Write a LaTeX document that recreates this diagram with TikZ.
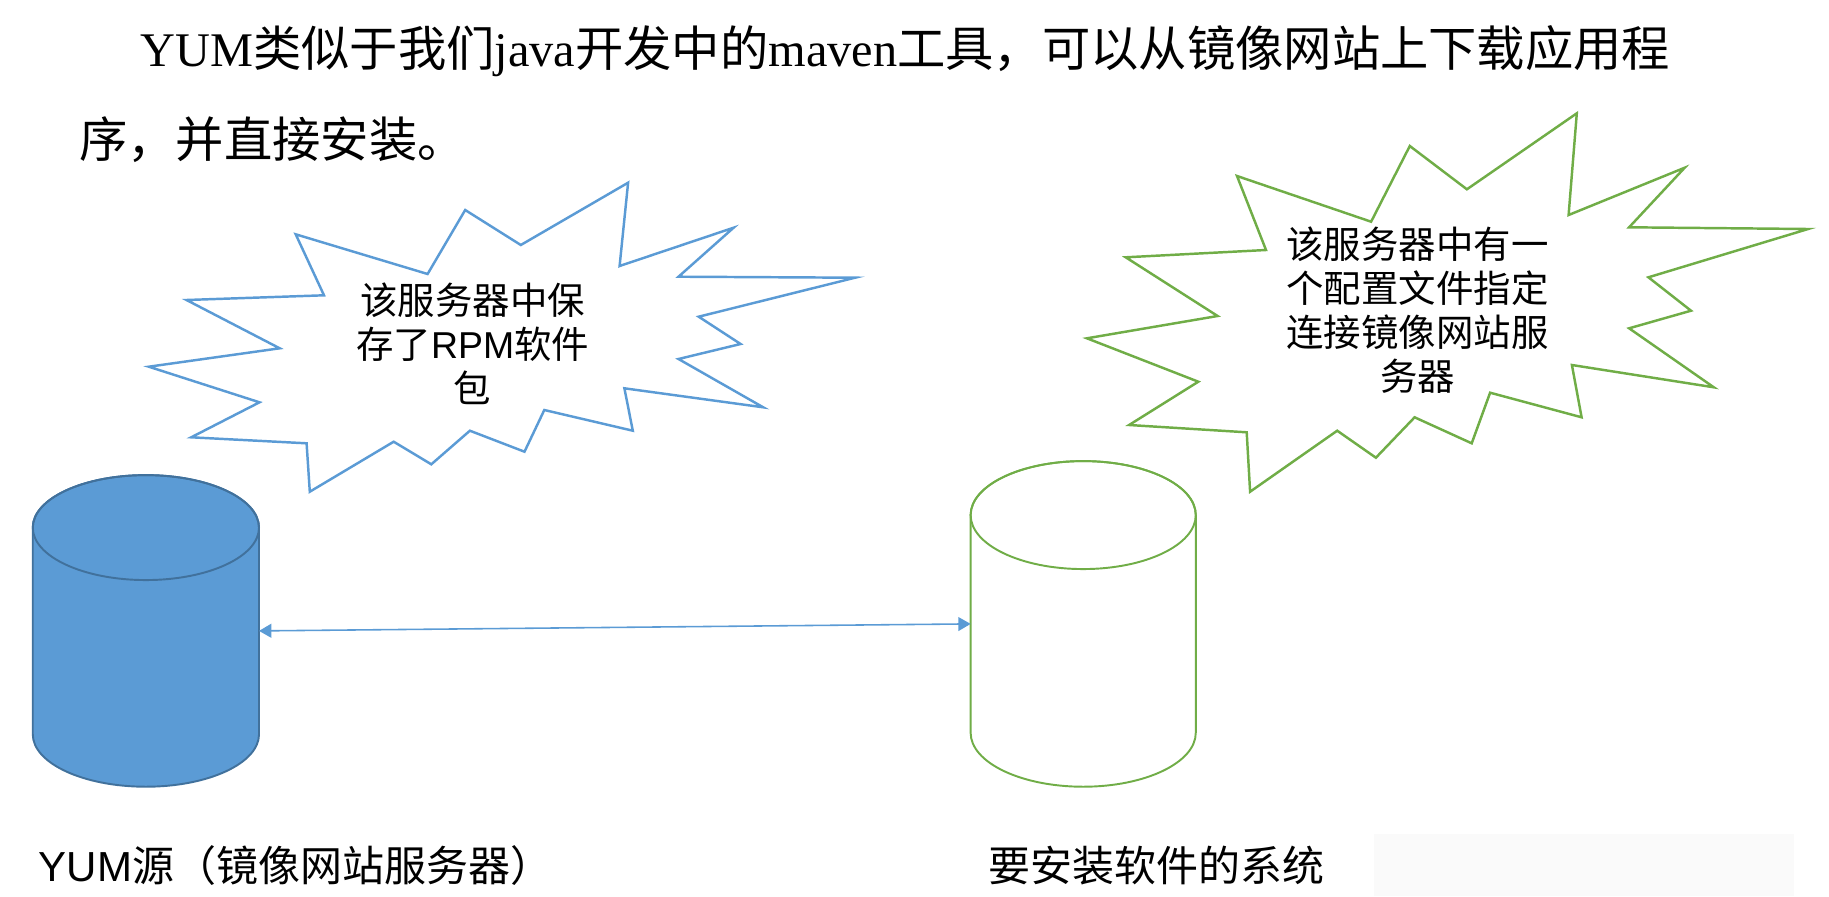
\documentclass[tikz,border=0pt]{standalone}
\usepackage{xcolor}
\usepackage{fontspec}
\setmainfont{Noto Sans CJK SC}
\newfontfamily\latin{Liberation Serif}
\newfontfamily\arial{Liberation Sans}
\usepackage{tikz}
\usetikzlibrary{shapes, arrows, positioning}
\definecolor{mblue}{HTML}{5B9BD5}
\definecolor{dblue}{HTML}{41719C}
\definecolor{mgreen}{HTML}{70AD47}
\tikzstyle{burst} = [line width=1.4pt, line join=miter]
\tikzstyle{repo} = [inner sep=0pt, outer sep=0pt]
\tikzstyle{can} = [line width=1.1pt]
\tikzstyle{note} = [align=center, font=\fontsize{21.3}{25}\selectfont]
\tikzstyle{caption} = [anchor=west, inner sep=0pt, font=\fontsize{23.9}{28}\selectfont]
\tikzstyle{heading} = [anchor=west, inner sep=0pt, font=\fontsize{27.5}{33}\selectfont]
\tikzstyle{link} = [<->, >=triangle 60, mblue, line width=0.9pt]

\begin{document}
\begin{tikzpicture}[x=0.02cm, y=-0.02cm]
					\useasboundingbox (0,0) rectangle (1829,896);
					% title
					\node (title-a) [heading] at (140,51) {{\latin YUM}类似于我们{\latin java}开发中的{\latin maven}工具，可以从镜像网站上下载应用程};
					\node (title-b) [heading] at (79,140) {序，并直接安装。};
					% bursts
					\draw[burst, mblue] (295.7,234.3) -- (324,295.3) -- (186.5,300) -- (279.7,348.3) -- (148.8,366.7) -- (259.5,402.3) -- (191.2,437.3) -- (306.6,443.3) -- (309.8,491.7) -- (393.7,441.7) -- (431.3,464.3) -- (469.9,430.7) -- (524.5,451.7) -- (544.3,410) -- (632.8,430.7) -- (624.4,388.3) -- (763.2,407.3) -- (678.5,359) -- (740.6,344) -- (698.7,316.7) -- (855.1,277.7) -- (678.5,276.7) -- (733.6,227.7) -- (619.6,266) -- (628.1,182.7) -- (520.8,245) -- (465.2,210) -- (427.6,274) -- cycle;
					\draw[burst, mgreen] (1237,176) -- (1266,250) -- (1125.7,257.3) -- (1217.6,316) -- (1086.9,338.3) -- (1198.3,381.7) -- (1129.1,425) -- (1246.7,432.3) -- (1250.1,491.7) -- (1337.2,430.7) -- (1375.9,457.7) -- (1414.6,417.3) -- (1471.7,443.3) -- (1490.1,392.7) -- (1581.6,417.3) -- (1571.9,365) -- (1713.8,387.3) -- (1629.1,328.3) -- (1691,310.7) -- (1648.4,277.3) -- (1808.1,229) -- (1629.1,227.3) -- (1684.7,167.7) -- (1568.6,215) -- (1576.8,113.3) -- (1466.9,189.3) -- (1409.8,146) -- (1371.1,221.7) -- cycle;
					\node (src-note) [note] at (472.7,344) {该服务器中保\\存了{\arial RPM}软件\\包};
					\node (host-note) [note] at (1417.5,310) {该服务器中有一\\个配置文件指定\\连接镜像网站服\\务器};
					% servers
					\node (src) [repo, minimum width=4.526cm, minimum height=6.234cm] at (145.9,630.9) {};
					\filldraw[can, fill=mblue, draw=dblue] ([yshift=-1.05cm]src.north west) -- ([yshift=1.05cm]src.south west) arc[start angle=180, end angle=360, x radius=2.263cm, y radius=1.05cm] -- ([yshift=-1.05cm]src.north east) arc[start angle=0, end angle=180, x radius=2.263cm, y radius=1.05cm] -- cycle;
					\draw[can, dblue] ([yshift=-1.05cm]src.north) ellipse [x radius=2.263cm, y radius=1.05cm];
					\node (host) [repo, minimum width=4.504cm, minimum height=6.514cm] at (1083.2,623.9) {};
					\filldraw[can, fill=white, draw=mgreen] ([yshift=-1.08cm]host.north west) -- ([yshift=1.08cm]host.south west) arc[start angle=180, end angle=360, x radius=2.252cm, y radius=1.08cm] -- ([yshift=-1.08cm]host.north east) arc[start angle=0, end angle=180, x radius=2.252cm, y radius=1.08cm] -- cycle;
					\draw[can, mgreen] ([yshift=-1.08cm]host.north) ellipse [x radius=2.252cm, y radius=1.08cm];
					\draw[link] (src.east) -- (host.west);
					\node (src-label) [caption] at (38.5,865.5) {{\arial YUM}源（镜像网站服务器）};
					\node (host-label) [caption] at (988,865.5) {要安装软件的系统};
					\fill[black!2] (1374,834) rectangle (1794,896);
\end{tikzpicture}
\end{document}
